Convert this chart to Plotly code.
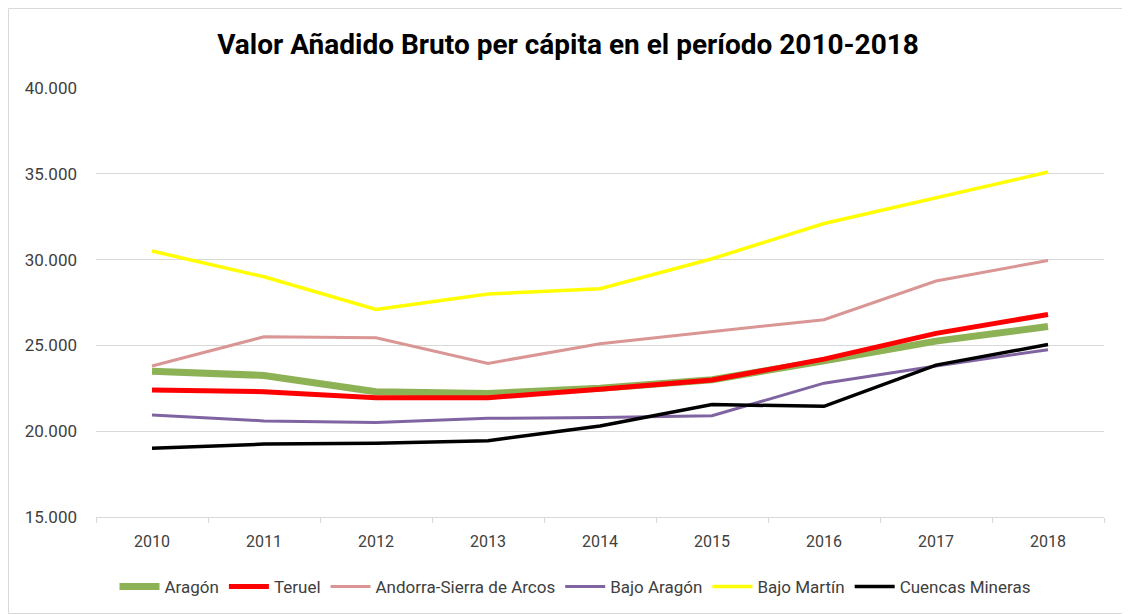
import plotly.graph_objects as go

years = ["2010", "2011", "2012", "2013", "2014", "2015", "2016", "2017", "2018"]
aragon = [23500, 23250, 22300, 22200, 22500, 23000, 24100, 25250, 26100]
teruel = [22400, 22300, 21950, 21950, 22450, 22980, 24200, 25700, 26800]
andorra = [23800, 25500, 25450, 23950, 25100, 25800, 26500, 28750, 29950]
bajo_aragon = [20950, 20600, 20500, 20750, 20800, 20900, 22800, 23800, 24750]
bajo_martin = [30500, 29000, 27100, 28000, 28300, 30050, 32100, 33600, 35100]
cuencas = [19000, 19250, 19300, 19450, 20300, 21550, 21450, 23850, 25050]

series = [
    ("Aragón", aragon, "#8DB255", 7),
    ("Teruel", teruel, "#FF0000", 5),
    ("Andorra-Sierra de Arcos", andorra, "#D99694", 3),
    ("Bajo Aragón", bajo_aragon, "#8064A2", 3),
    ("Bajo Martín", bajo_martin, "#FFFF00", 3.5),
    ("Cuencas Mineras", cuencas, "#000000", 3.5),
]

font_family = "Roboto, Open Sans, sans-serif"

fig = go.Figure()
for name, vals, color, w in series:
    fig.add_trace(go.Scatter(x=years, y=vals, name=name, mode="lines",
                             line=dict(color=color, width=w)))

W, H = 1122, 606
L, R, T, B = 88, 26, 80, 97
pw, ph = W - L - R, H - T - B

fig.update_layout(
    width=W, height=H,
    paper_bgcolor="white", plot_bgcolor="white",
    separators=",.",
    margin=dict(l=L, r=R, t=T, b=B, autoexpand=False),
    title=dict(text="<b>Valor Añadido Bruto per cápita en el período 2010-2018</b>",
               x=560 / W, xanchor="center", y=1 - 36 / H, yanchor="middle",
               font=dict(family=font_family, size=28, color="#000000")),
    font=dict(family=font_family, size=16, color="#404040"),
    legend=dict(orientation="h", x=(567 - L) / pw, xanchor="center", y=-70 / ph, yanchor="middle",
                font=dict(family=font_family, size=17, color="#404040"),
                itemwidth=40, tracegroupgap=0),
    xaxis=dict(type="category", range=[-0.5, 8.5], showgrid=False, automargin=False,
               showline=True, linecolor="#D9D9D9", linewidth=1,
               ticks="outside", tickson="boundaries", ticklen=5, tickcolor="#D9D9D9",
               ticklabelstandoff=10,
               tickfont=dict(size=16, color="#404040")),
    yaxis=dict(range=[15000, 40000], dtick=5000, tickformat=",.0f", automargin=False,
               showgrid=True, gridcolor="#D9D9D9", gridwidth=1,
               zeroline=False, showline=False, ticklabelstandoff=18,
               tickfont=dict(size=17, color="#404040")),
    shapes=[dict(type="rect", xref="paper", yref="paper",
                 x0=(0.5 - L) / pw, x1=(W - 0.5 - L) / pw,
                 y0=-(B - 0.5) / ph, y1=1 + (T - 0.5) / ph,
                 line=dict(color="#D9D9D9", width=1))],
)

fig.write_html("out.html")
